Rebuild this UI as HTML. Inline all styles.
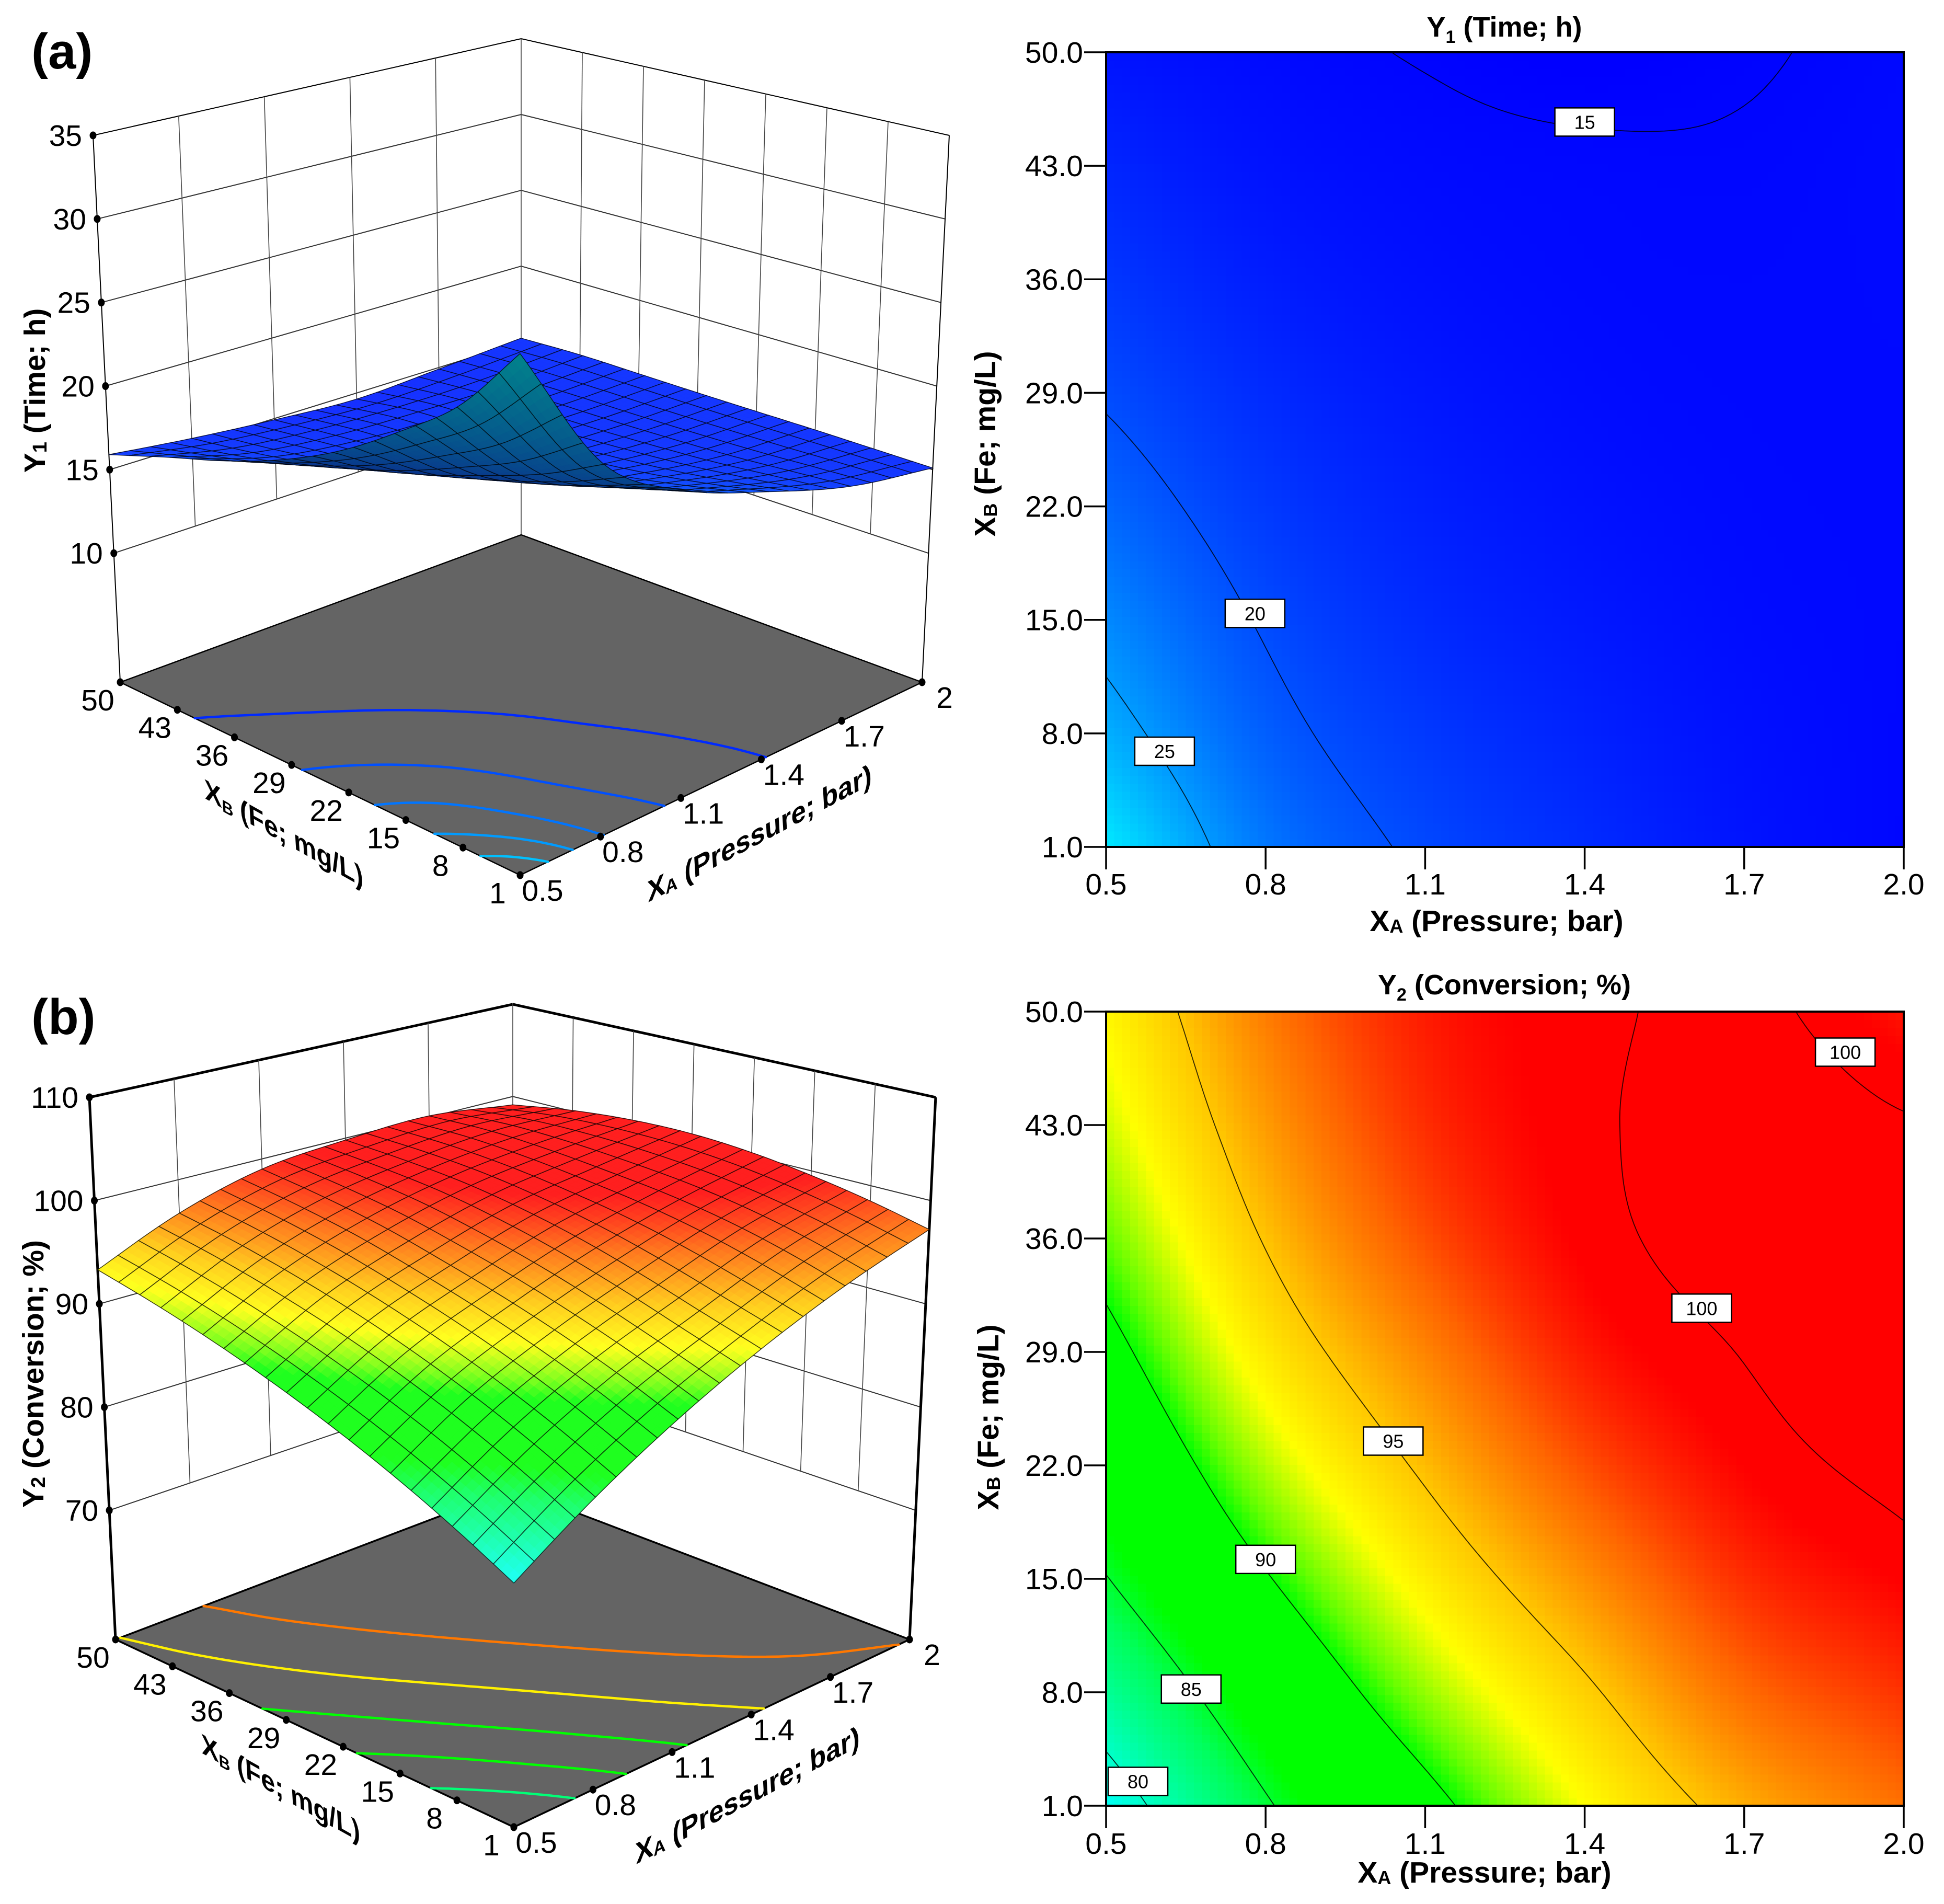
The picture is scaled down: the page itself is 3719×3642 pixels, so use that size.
<!DOCTYPE html>
<html lang="en">
<head>
<meta charset="utf-8">
<title>Response surface and contour plots</title>
<style>
html,body{margin:0;padding:0;background:#fff;}
svg{display:block;font-family:"Liberation Sans",Arial,sans-serif;}
text{fill:#000;}
</style>
</head>
<body>
<svg id="figure" xmlns="http://www.w3.org/2000/svg" width="3719" height="3642" viewBox="0 0 3719 3642">
  <rect width="3719" height="3642" fill="#fff"/>
  <g id="panel-a-3d"></g>
  <g id="panel-a-contour"></g>
  <g id="panel-b-3d"></g>
  <g id="panel-b-contour"></g>

  <text x="60" y="131" font-size="96" font-weight="bold">(a)</text>
  <text x="60" y="1978" font-size="96" font-weight="bold">(b)</text>

  <text transform="translate(86,747) rotate(-90)" text-anchor="middle" font-size="57" font-weight="bold">Y<tspan font-size="38" dy="3">1</tspan><tspan dy="-3"> (Time; h)</tspan></text>
  <text transform="translate(83,2628) rotate(-90)" text-anchor="middle" font-size="57" font-weight="bold">Y<tspan font-size="38" dy="3">2</tspan><tspan dy="-3"> (Conversion; %)</tspan></text>

  <text transform="matrix(0.872,0.49,0.06,0.98,543,1594)" text-anchor="middle" y="19" font-size="56" font-weight="bold">X<tspan font-size="34" dy="6">B</tspan><tspan dy="-6"> (Fe; mg/L)</tspan></text>
  <text transform="matrix(0.883,-0.468,0.06,0.98,1453,1594)" text-anchor="middle" y="19" font-size="57" font-weight="bold">X<tspan font-size="36" dy="3">A</tspan><tspan dy="-3"> (Pressure; bar)</tspan></text>
  <text transform="matrix(0.872,0.49,0.06,0.98,537,3420)" text-anchor="middle" y="19" font-size="56" font-weight="bold">X<tspan font-size="34" dy="6">B</tspan><tspan dy="-6"> (Fe; mg/L)</tspan></text>
  <text transform="matrix(0.883,-0.468,0.06,0.98,1430,3434)" text-anchor="middle" y="19" font-size="57" font-weight="bold">X<tspan font-size="36" dy="3">A</tspan><tspan dy="-3"> (Pressure; bar)</tspan></text>

  <text x="2878" y="70" text-anchor="middle" font-size="54" font-weight="bold">Y<tspan font-size="34" dy="12">1</tspan><tspan dy="-12"> (Time; h)</tspan></text>
  <text x="2863" y="1781" text-anchor="middle" font-size="57" font-weight="bold">X<tspan font-size="36" dy="3">A</tspan><tspan dy="-3"> (Pressure; bar)</tspan></text>
  <text transform="translate(1904,849) rotate(-90)" text-anchor="middle" font-size="57" font-weight="bold">X<tspan font-size="36" dy="3">B</tspan><tspan dy="-3"> (Fe; mg/L)</tspan></text>

  <text x="2878" y="1902" text-anchor="middle" font-size="54" font-weight="bold">Y<tspan font-size="34" dy="12">2</tspan><tspan dy="-12"> (Conversion; %)</tspan></text>
  <text x="2840" y="3601" text-anchor="middle" font-size="57" font-weight="bold">X<tspan font-size="36" dy="3">A</tspan><tspan dy="-3"> (Pressure; bar)</tspan></text>
  <text transform="translate(1910,2711) rotate(-90)" text-anchor="middle" font-size="57" font-weight="bold">X<tspan font-size="36" dy="3">B</tspan><tspan dy="-3"> (Fe; mg/L)</tspan></text>
</svg>

<script>
/* ---------- chart data ---------- */
const xATicks = [0.5, 0.8, 1.1, 1.4, 1.7, 2.0];
const xBTicks = [1, 8, 15, 22, 29, 36, 43, 50];
const xATickLabels3d = ['0.5', '0.8', '1.1', '1.4', '1.7', '2'];
const xBTickLabels3d = ['1', '8', '15', '22', '29', '36', '43', '50'];
const xATickLabels = ['0.5', '0.8', '1.1', '1.4', '1.7', '2.0'];
const xBTickLabels = ['1.0', '8.0', '15.0', '22.0', '29.0', '36.0', '43.0', '50.0'];

/* response values: one row per X_B tick, one column per X_A tick */
const y1Values = [
  [30.3, 22.7, 19.5, 17.6, 16.0, 15.1],
  [26.4, 21.0, 18.45, 16.9, 15.75, 15.15],
  [23.8, 19.7, 17.5, 16.3, 15.5, 15.2],
  [21.5, 18.5, 16.8, 15.85, 15.35, 15.22],
  [19.7, 17.5, 16.2, 15.5, 15.25, 15.25],
  [18.3, 16.6, 15.7, 15.3, 15.2, 15.3],
  [17.15, 15.9, 15.35, 15.15, 15.1, 15.35],
  [15.9, 15.35, 14.92, 14.62, 14.9, 15.25]
];
const y2Values = [
  [78.3, 84.7, 89.22, 93.0, 95.66, 97.2],
  [81.8, 87.3, 91.6, 94.7, 97.3, 98.5],
  [84.9, 89.82, 93.6, 96.4, 98.6, 99.55],
  [87.2, 91.98, 95.3, 97.9, 99.5, 100.35],
  [89.22, 93.75, 96.7, 99.0, 100.05, 100.75],
  [90.97, 95.12, 97.9, 99.62, 100.45, 100.65],
  [92.33, 96.11, 98.6, 99.78, 100.55, 100.1],
  [93.3, 96.9, 98.98, 99.75, 100.25, 99.1]
];
/* panel (b) surface heights as they read on the 3D plot itself */
const y2SurfaceValues = [
  [78.3, 83.04, 87.3, 91.08, 94.38, 97.2],
  [81.03, 85.69, 89.6, 92.81, 96.08, 98.5],
  [83.57, 88.13, 91.64, 94.64, 97.49, 99.55],
  [85.9, 90.31, 93.49, 96.33, 98.53, 100.35],
  [88.04, 92.26, 95.17, 97.71, 99.26, 100.75],
  [89.99, 93.97, 96.76, 98.76, 99.88, 100.65],
  [91.74, 95.46, 97.98, 99.39, 100.25, 100.1],
  [93.3, 96.7, 98.98, 99.8, 100.15, 99.1]
];
const y2FloorValues = [
  [78.3, 84.32, 89.22, 93.0, 95.66, 97.2],
  [81.62, 87.26, 91.79, 95.2, 97.48, 98.65],
  [84.55, 89.82, 93.97, 97.0, 98.91, 99.7],
  [87.08, 91.98, 95.75, 98.41, 99.95, 100.37],
  [89.22, 93.75, 97.15, 99.43, 100.59, 100.64],
  [90.97, 95.12, 98.15, 100.06, 100.85, 100.52],
  [92.33, 96.11, 98.76, 100.3, 100.71, 100.0],
  [93.3, 96.7, 98.98, 100.14, 100.18, 99.1]
];

const y1ZTicks = [10, 15, 20, 25, 30, 35];
const y2ZTicks = [70, 80, 90, 100, 110];
const y1FloorLevels = [17.5, 20, 22.5, 25, 27.5];
const y2FloorLevels = [83, 86.5, 90, 93.5, 97];
const y1ContourLevels = [15, 20, 25];
const y2ContourLevels = [80, 85, 90, 95, 100];

const y1LabelText = ['15', '20', '25'];
const y1LabelA = [1.40, 0.78, 0.61];
const y1LabelB = [45.7, 15.4, 6.9];
const y2LabelText = ['100', '100', '95', '90', '85', '80'];
const y2LabelA = [1.89, 1.62, 1.04, 0.80, 0.66, 0.56];
const y2LabelB = [47.5, 31.7, 23.5, 16.2, 8.2, 2.5];

/* colour ramps: response value -> colour */
const y1RampZ = [14.7, 31.7];
const y1RampRGB = [[0, 0, 255], [0, 255, 255]];
const y1SurfaceRampRGB = [[22, 48, 255], [0, 255, 255]];
const y2RampZ = [78, 84, 86, 90, 91, 93, 95, 97.5, 99.5];
const y2RampRGB = [[0, 255, 255], [0, 255, 90], [0, 255, 0], [0, 255, 0], [100, 255, 0], [255, 255, 0], [255, 200, 0], [255, 100, 0], [255, 0, 0]];

/* ---------- helpers ---------- */
const NS = 'http://www.w3.org/2000/svg';
function make(parent, tag, attrs, content) {
  const e = document.createElementNS(NS, tag);
  for (const k in attrs) e.setAttribute(k, attrs[k]);
  if (content !== undefined) e.textContent = content;
  parent.appendChild(e);
  return e;
}
function normA(A) { return (A - xATicks[0]) / (xATicks[xATicks.length - 1] - xATicks[0]); }
function normB(B) { return (B - xBTicks[0]) / (xBTicks[xBTicks.length - 1] - xBTicks[0]); }
function cubic(p0, p1, p2, p3, u) {
  return p1 + 0.5 * u * (p2 - p0 + u * (2 * p0 - 5 * p1 + 4 * p2 - p3 + u * (3 * (p1 - p2) + p3 - p0)));
}
function sampleGrid(g, a, b) {
  const rows = g.length, cols = g[0].length;
  function at(r, c) {
    if (r < 0) return 2 * at(0, c) - at(1, c);
    if (r >= rows) return 2 * at(rows - 1, c) - at(rows - 2, c);
    if (c < 0) return 2 * g[r][0] - g[r][1];
    if (c >= cols) return 2 * g[r][cols - 1] - g[r][cols - 2];
    return g[r][c];
  }
  const u = a * (cols - 1), v = b * (rows - 1);
  const i = Math.min(Math.floor(u), cols - 2), j = Math.min(Math.floor(v), rows - 2);
  const fu = u - i, fv = v - j;
  const vals = [];
  for (let r = j - 1; r <= j + 2; r++) {
    vals.push(cubic(at(r, i - 1), at(r, i), at(r, i + 1), at(r, i + 2), fu));
  }
  return cubic(vals[0], vals[1], vals[2], vals[3], fv);
}
function rampColor(zs, rgbs, z) {
  if (z <= zs[0]) return rgbs[0].slice();
  for (let i = 1; i < zs.length; i++) {
    if (z <= zs[i]) {
      const f = (z - zs[i - 1]) / (zs[i] - zs[i - 1]);
      return [0, 1, 2].map(function (k) { return rgbs[i - 1][k] + f * (rgbs[i][k] - rgbs[i - 1][k]); });
    }
  }
  return rgbs[rgbs.length - 1].slice();
}
function css(c) { return 'rgb(' + Math.round(c[0]) + ',' + Math.round(c[1]) + ',' + Math.round(c[2]) + ')'; }

/* marching squares over the unit square, mapped through toXY */
function contourPath(g, level, n, toXY) {
  const val = [];
  for (let i = 0; i <= n; i++) {
    val.push([]);
    for (let j = 0; j <= n; j++) val[i].push(sampleGrid(g, i / n, j / n));
  }
  let d = '';
  function cross(a1, b1, v1, a2, b2, v2) {
    const f = (level - v1) / (v2 - v1);
    return [a1 + f * (a2 - a1), b1 + f * (b2 - b1)];
  }
  for (let i = 0; i < n; i++) {
    for (let j = 0; j < n; j++) {
      const a0 = i / n, a1 = (i + 1) / n, b0 = j / n, b1 = (j + 1) / n;
      const v00 = val[i][j], v10 = val[i + 1][j], v11 = val[i + 1][j + 1], v01 = val[i][j + 1];
      const pts = [];
      if ((v00 < level) !== (v10 < level)) pts.push(cross(a0, b0, v00, a1, b0, v10));
      if ((v10 < level) !== (v11 < level)) pts.push(cross(a1, b0, v10, a1, b1, v11));
      if ((v11 < level) !== (v01 < level)) pts.push(cross(a1, b1, v11, a0, b1, v01));
      if ((v01 < level) !== (v00 < level)) pts.push(cross(a0, b1, v01, a0, b0, v00));
      for (let k = 0; k + 1 < pts.length; k += 2) {
        const p = toXY(pts[k][0], pts[k][1]), q = toXY(pts[k + 1][0], pts[k + 1][1]);
        d += 'M' + p[0].toFixed(1) + ' ' + p[1].toFixed(1) + 'L' + q[0].toFixed(1) + ' ' + q[1].toFixed(1);
      }
    }
  }
  return d;
}

/* box projection: floor is bilinear between its corners, height grows toward the viewer */
function makeProjector(fr) {
  const hL = fr.L[1] - fr.LT[1], hB = fr.B[1] - fr.BT[1];
  const hF = 1 / (1 / hL - (1 / hB - 1 / hL));
  const spread = (fr.LT[0] - fr.BT[0]) / (fr.L[0] - fr.B[0]) - 1;
  return function (a, b, t) {
    const w00 = (1 - a) * (1 - b), w10 = a * (1 - b), w11 = a * b, w01 = (1 - a) * b;
    const x = w00 * fr.F[0] + w10 * fr.R[0] + w11 * fr.B[0] + w01 * fr.L[0];
    const y = w00 * fr.F[1] + w10 * fr.R[1] + w11 * fr.B[1] + w01 * fr.L[1];
    const h = w00 * hF + (w10 + w01) * hL + w11 * hB;
    return [fr.B[0] + (x - fr.B[0]) * (1 + spread * t), y - h * t];
  };
}

/* ---------- 3D panel ---------- */
function draw3D(cfg) {
  const root = document.getElementById(cfg.id);
  const proj = makeProjector(cfg.frame);
  const grid = cfg.surfaceValues;
  const zTop = cfg.zTicks[cfg.zTicks.length - 1];
  const tOf = function (z) { return (z - cfg.zFloor) / (zTop - cfg.zFloor); };
  const tLow = tOf(cfg.zTicks[0]);
  function seg(parent, p, q, w, col) {
    return make(parent, 'line', { x1: p[0], y1: p[1], x2: q[0], y2: q[1], stroke: col || '#222', 'stroke-width': w });
  }

  /* walls */
  const walls = make(root, 'g', {});
  
  
  cfg.zTicks.forEach(function (z) {
    const t = tOf(z);
    const w = z === zTop ? cfg.edgeWidth : 2;
    const col = z === zTop ? '#000' : '#333';
    const l1 = seg(walls, proj(0, 1, t), proj(1, 1, t), w, col);
    
    
    const l2 = seg(walls, proj(1, 1, t), proj(1, 0, t), w, col);
    
    
  });
  xATicks.slice(1, -1).forEach(function (A) {
    const a = normA(A);
    const l = seg(walls, proj(a, 1, tLow), proj(a, 1, 1), 1.6, '#444');
    
    
  });
  xBTicks.slice(1, -1).forEach(function (B) {
    const b = normB(B);
    const l = seg(walls, proj(1, b, tLow), proj(1, b, 1), 1.6, '#444');
    
    
  });
  const backEdge = seg(walls, proj(1, 1, 0), proj(1, 1, 1), 1.6, '#444');
  
  
  const leftEdge = seg(walls, proj(0, 1, 0), proj(0, 1, 1), cfg.edgeWidth, '#000');
  
  
  const rightEdge = seg(walls, proj(1, 0, 0), proj(1, 0, 1), cfg.edgeWidth, '#000');
  
  

  /* floor */
  const corners = [proj(0, 0, 0), proj(1, 0, 0), proj(1, 1, 0), proj(0, 1, 0)];
  const floor = make(root, 'polygon', {
    points: corners.map(function (p) { return p[0] + ',' + p[1]; }).join(' '),
    fill: '#646464', stroke: '#000', 'stroke-width': cfg.floorEdgeWidth, 'stroke-linejoin': 'round'
  });
  
  

  /* floor contours: interior of the floor recedes a little faster than its tick edges */
  cfg.floorLevels.forEach(function (lev) {
    const d = contourPath(cfg.floorValues, lev, 60, function (a, b) {
      const p = proj(a, b, 0);
      return [p[0], p[1] - cfg.floorBow * a * (1 - a) * b * (1 - b)];
    });
    const p = make(root, 'path', { d: d, fill: 'none', stroke: css(cfg.color(lev)), 'stroke-width': 4.5, 'stroke-linecap': 'round' });
    
    
  });

  /* ticks + labels */
  function dot(parent, p) {
    return make(parent, 'ellipse', { cx: p[0], cy: p[1], rx: 6.5, ry: 7.5, fill: '#000' });
  }
  cfg.zTicks.forEach(function (z) {
    const p = proj(0, 1, tOf(z));
    const d = dot(root, p);
    
    
    const tx = make(root, 'text', { x: p[0] - 21, y: p[1] + 20, 'text-anchor': 'end', 'font-size': 57 }, String(z));
    
    
  });
  xATicks.forEach(function (A, i) {
    const p = proj(normA(A), 0, 0);
    const d = dot(root, p);
    
    
    const tx = make(root, 'text', { x: p[0] + 43, y: p[1] + 49, 'text-anchor': 'middle', 'font-size': 57 }, xATickLabels3d[i]);
    
    
  });
  xBTicks.forEach(function (B, i) {
    const p = proj(0, normB(B), 0);
    const d = dot(root, p);
    
    
    const tx = make(root, 'text', { x: p[0] - 43, y: p[1] + 54, 'text-anchor': 'middle', 'font-size': 57 }, xBTickLabels3d[i]);
    
    
  });

  /* surface: painter's order from the back corner to the front corner;
     height comes from the surface table, colour from the response table */
  const surf = make(root, 'g', {});
  
  
  const cells = 20, sub = 3, N = cells * sub;
  const P = [], Z = [];
  for (let i = 0; i <= N; i++) {
    P.push([]); Z.push([]);
    for (let j = 0; j <= N; j++) {
      Z[i].push(sampleGrid(cfg.values, i / N, j / N));
      P[i].push(proj(i / N, j / N, tOf(sampleGrid(grid, i / N, j / N))));
    }
  }
  function fmt(p) { return p[0].toFixed(1) + ',' + p[1].toFixed(1); }
  for (let ci = cells - 1; ci >= 0; ci--) {
    for (let cj = cells - 1; cj >= 0; cj--) {
      const cell = make(surf, 'g', {});
      
      
      for (let si = sub - 1; si >= 0; si--) {
        for (let sj = sub - 1; sj >= 0; sj--) {
          const i = ci * sub + si, j = cj * sub + sj;
          const p00 = P[i][j], p10 = P[i + 1][j], p11 = P[i + 1][j + 1], p01 = P[i][j + 1];
          const zm = (Z[i][j] + Z[i + 1][j] + Z[i + 1][j + 1] + Z[i][j + 1]) / 4;
          const area = (p11[0] - p00[0]) * (p01[1] - p10[1]) - (p11[1] - p00[1]) * (p01[0] - p10[0]);
          const base = cfg.surfaceColor(zm);
          let c;
          if (area > 0) {
            c = base.map(function (v) { return v * cfg.underShade; });
          } else {
            c = base.map(function (v) { return v + (255 - v) * cfg.topLight; });
          }
          const col = css(c);
          const poly = make(cell, 'polygon', { points: fmt(p00) + ' ' + fmt(p10) + ' ' + fmt(p11) + ' ' + fmt(p01), fill: col, stroke: col, 'stroke-width': 0.8 });
          
          
        }
      }
      /* mesh outline for this cell */
      const i0 = ci * sub, j0 = cj * sub;
      let d = 'M' + fmt(P[i0][j0]);
      for (let s = 1; s <= sub; s++) d += 'L' + fmt(P[i0 + s][j0]);
      for (let s = 1; s <= sub; s++) d += 'L' + fmt(P[i0 + sub][j0 + s]);
      for (let s = 1; s <= sub; s++) d += 'L' + fmt(P[i0 + sub - s][j0 + sub]);
      for (let s = 1; s <= sub; s++) d += 'L' + fmt(P[i0][j0 + sub - s]);
      const mesh = make(cell, 'path', { d: d, fill: 'none', stroke: '#000', 'stroke-width': cfg.meshWidth, 'stroke-opacity': 0.75 });
      
      
    }
  }
}

/* ---------- contour panel ---------- */
function drawContour(cfg) {
  const root = document.getElementById(cfg.id);
  const bx = cfg.box;
  const xScale = function (A) { return bx.left + normA(A) * (bx.right - bx.left); };
  const yScale = function (B) { return bx.bottom - normB(B) * (bx.bottom - bx.top); };

  const heat = make(root, 'g', { 'shape-rendering': 'crispEdges' });
  
  
  const n = 100;
  const cw = (bx.right - bx.left) / n, ch = (bx.bottom - bx.top) / n;
  for (let i = 0; i < n; i++) {
    for (let j = 0; j < n; j++) {
      const z = sampleGrid(cfg.values, (i + 0.5) / n, (j + 0.5) / n);
      const r = make(heat, 'rect', {
        x: (bx.left + i * cw).toFixed(1), y: (bx.bottom - (j + 1) * ch).toFixed(1),
        width: (cw + 1).toFixed(1), height: (ch + 1).toFixed(1), fill: css(cfg.color(z))
      });
      
      
    }
  }

  cfg.levels.forEach(function (lev) {
    const d = contourPath(cfg.values, lev, 120, function (a, b) {
      return [bx.left + a * (bx.right - bx.left), bx.bottom - b * (bx.bottom - bx.top)];
    });
    const p = make(root, 'path', { d: d, fill: 'none', stroke: '#000', 'stroke-width': 1.8, 'stroke-opacity': 0.8 });
    
    
  });

  const frame = make(root, 'rect', { x: bx.left, y: bx.top, width: bx.right - bx.left, height: bx.bottom - bx.top, fill: 'none', stroke: '#000', 'stroke-width': 4 });
  
  

  xATicks.forEach(function (A, i) {
    const x = xScale(A);
    const t = make(root, 'line', { x1: x, y1: bx.bottom, x2: x, y2: bx.bottom + 43, stroke: '#000', 'stroke-width': 3.5 });
    
    
    const tx = make(root, 'text', { x: x, y: bx.bottom + cfg.xLabelOffset, 'text-anchor': 'middle', 'font-size': 57 }, xATickLabels[i]);
    
    
  });
  xBTicks.forEach(function (B, i) {
    const y = yScale(B);
    const t = make(root, 'line', { x1: bx.left - 42, y1: y, x2: bx.left, y2: y, stroke: '#000', 'stroke-width': 3.5 });
    
    
    const tx = make(root, 'text', { x: bx.left - 44, y: y + 20, 'text-anchor': 'end', 'font-size': 57 }, xBTickLabels[i]);
    
    
  });

  cfg.labelText.forEach(function (s, i) {
    const x = xScale(cfg.labelA[i]), y = yScale(cfg.labelB[i]);
    const box = make(root, 'rect', { x: x - 57, y: y - 27, width: 114, height: 54, fill: '#fff', stroke: '#000', 'stroke-width': 2.5 });
    
    
    const tx = make(root, 'text', { x: x, y: y + 13, 'text-anchor': 'middle', 'font-size': 36 }, s);
    
    
  });
}

/* ---------- panels ---------- */
const y1Color = function (z) { return rampColor(y1RampZ, y1RampRGB, z); };
const y1SurfaceColor = function (z) { return rampColor(y1RampZ, y1SurfaceRampRGB, z); };
const y2Color = function (z) { return rampColor(y2RampZ, y2RampRGB, z); };

draw3D({
  id: 'panel-a-3d', values: y1Values, surfaceValues: y1Values, floorValues: y1Values, zTicks: y1ZTicks, zFloor: 2.28, floorLevels: y1FloorLevels,
  color: y1Color, surfaceColor: y1SurfaceColor, floorBow: 1035,
  frame: { F: [995, 1674], R: [1764, 1305], L: [230, 1305], B: [997, 1023], BT: [997, 74], LT: [178, 259] },
  edgeWidth: 2, floorEdgeWidth: 2.5, underShade: 0.55, topLight: 0, meshWidth: 1.4
});
draw3D({
  id: 'panel-b-3d', values: y2Values, surfaceValues: y2SurfaceValues, floorValues: y2FloorValues, zTicks: y2ZTicks, zFloor: 57.5, floorLevels: y2FloorLevels,
  color: y2Color, surfaceColor: y2Color, floorBow: 580,
  frame: { F: [983, 3495], R: [1740, 3136], L: [221, 3136], B: [981, 2847], BT: [981, 1921], LT: [171, 2099] },
  edgeWidth: 5, floorEdgeWidth: 3.5, underShade: 0.55, topLight: 0.12, meshWidth: 1.5
});
drawContour({
  id: 'panel-a-contour', values: y1Values, levels: y1ContourLevels, color: y1Color,
  box: { left: 2116, right: 3642, top: 100, bottom: 1620 }, xLabelOffset: 91,
  labelText: y1LabelText, labelA: y1LabelA, labelB: y1LabelB
});
drawContour({
  id: 'panel-b-contour', values: y2Values, levels: y2ContourLevels, color: y2Color,
  box: { left: 2116, right: 3642, top: 1935, bottom: 3454 }, xLabelOffset: 92,
  labelText: y2LabelText, labelA: y2LabelA, labelB: y2LabelB
});
</script>
</body>
</html>
